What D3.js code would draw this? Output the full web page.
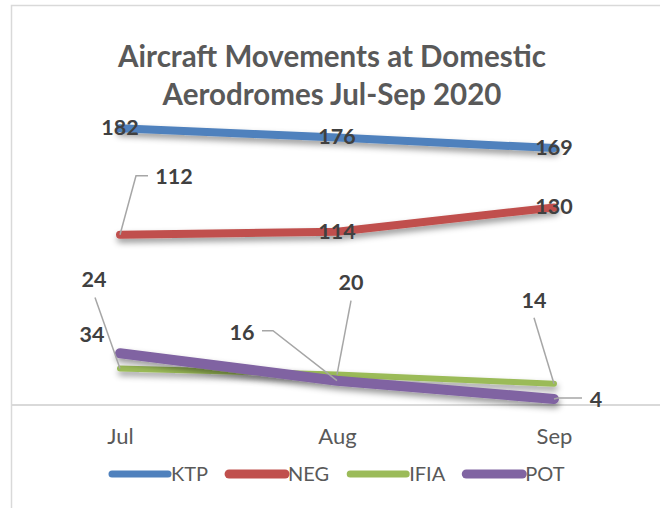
<!DOCTYPE html>
<html>
<head>
<meta charset="utf-8">
<script src="https://cdn.jsdelivr.net/npm/d3@7.9.0/dist/d3.min.js"></script>
<style>
  body { margin: 0; background: #fff; }
  svg { display: block; }
</style>
</head>
<body>
<script>
// chart data
const months = ["Jul", "Aug", "Sep"];
const seriesNames = ["KTP", "NEG", "IFIA", "POT"];
const ktp = [182, 176, 169];
const neg = [112, 114, 130];
const ifia = [24, 20, 14];
const pot = [34, 16, 4];
const titleLines = ["Aircraft Movements at Domestic", "Aerodromes Jul-Sep 2020"];

const W = 660, H = 508;
const font = "Lato, 'Open Sans', sans-serif";

const series = [
  { name: seriesNames[0], values: ktp, color: "#4f81bd", width: 8, legendWidth: 7 },
  { name: seriesNames[1], values: neg, color: "#c0504d", width: 8, legendWidth: 9 },
  { name: seriesNames[2], values: ifia, color: "#9bbb59", width: 6, legendWidth: 7 },
  { name: seriesNames[3], values: pot, color: "#8064a2", width: 10, legendWidth: 9 }
];

// label placement, all offsets relative to the data point
// lx/ly = label centre x / baseline y; leader = bend points going from the point to the label
const labelLayout = {
  KTP: [{ lx: 0, ly: 7 }, { lx: 0, ly: 7 }, { lx: 0, ly: 7 }],
  NEG: [
    { lx: 54, ly: -51, leader: [[16, -59], [28, -59]] },
    { lx: 0, ly: 7 }, { lx: 0, ly: 7 }
  ],
  IFIA: [
    { lx: -26, ly: -82, leader: [[-25, -71]] },
    { lx: 14, ly: -85, leader: [[14, -74]] },
    { lx: -20, ly: -76, leader: [[-20, -66]] }
  ],
  POT: [
    { lx: -28, ly: -11 },
    { lx: -95, ly: -41, leader: [[-64, -50], [-75, -50]] },
    { lx: 42, ly: 8, leader: [[4, -1], [28, -1]] }
  ]
};

const svg = d3.select("body").append("svg")
  .attr("width", W)
  .attr("height", H)
  .style("background", "#fff");

const defs = svg.append("defs");
defs.append("filter")
  .attr("id", "shadow")
  .attr("x", "-10%").attr("y", "-50%")
  .attr("width", "120%").attr("height", "250%")
  .append("feDropShadow")
  .attr("dx", 1).attr("dy", 4)
  .attr("stdDeviation", 3)
  .attr("flood-color", "#000")
  .attr("flood-opacity", 0.4);

// chart border (only top/left visible in the crop)
svg.append("rect")
  .attr("x", 11.5).attr("y", 5.5)
  .attr("width", 800).attr("height", 700)
  .attr("fill", "none")
  .attr("stroke", "#d9d9d9")
  .attr("stroke-width", 1.5);

// title
svg.append("text")
  .attr("x", 332)
  .attr("y", 67)
  .attr("text-anchor", "middle")
  .style("font-family", font)
  .style("font-weight", "bold")
  .style("font-size", "29.5px")
  .style("fill", "#595959")
  .selectAll("tspan")
  .data(titleLines)
  .join("tspan")
  .attr("x", 332)
  .attr("dy", (d, i) => i === 0 ? 0 : 38)
  .text(d => d);

// scales
const x = d3.scalePoint()
  .domain(months)
  .range([120, 554]);

const y = d3.scaleLinear()
  .domain([0, 200])
  .range([405, 101]);

// x axis
const xAxis = svg.append("g")
  .attr("transform", `translate(0,${y(0)})`)
  .call(d3.axisBottom(x).tickSize(0).tickPadding(23));
xAxis.select(".domain").remove();
xAxis.selectAll("text")
  .style("font-family", font)
  .style("font-size", "22px")
  .style("fill", "#595959");

svg.append("line")
  .attr("x1", 12).attr("x2", W)
  .attr("y1", y(0)).attr("y2", y(0))
  .attr("stroke", "#d9d9d9")
  .attr("stroke-width", 2);

// lines
const line = d3.line()
  .x((d, i) => x(months[i]))
  .y(d => y(d));

svg.append("g")
  .selectAll("path")
  .data(series)
  .join("path")
  .attr("d", d => line(d.values))
  .attr("fill", "none")
  .attr("stroke", d => d.color)
  .attr("stroke-width", d => d.width)
  .attr("stroke-linecap", "round")
  .attr("stroke-linejoin", "round")
  .attr("filter", "url(#shadow)");

// data labels
const labelG = svg.append("g");
series.forEach(s => {
  s.values.forEach((v, i) => {
    const px = x(months[i]), py = y(v);
    const lay = labelLayout[s.name][i];
    if (lay.leader) {
      const pts = [[px, py]].concat(lay.leader.map(p => [px + p[0], py + p[1]]));
      labelG.append("path")
        .attr("d", d3.line()(pts))
        .attr("fill", "none")
        .attr("stroke", "#a6a6a6")
        .attr("stroke-width", 1.5);
    }
    labelG.append("text")
      .attr("x", px + lay.lx)
      .attr("y", py + lay.ly)
      .attr("text-anchor", "middle")
      .style("font-family", font)
      .style("font-weight", "bold")
      .style("font-size", "21.5px")
      .style("fill", "#404040")
      .text(v);
  });
});

// legend
const legend = svg.append("g").attr("transform", "translate(112,474)");
let lx = 0;
series.forEach(s => {
  const g = legend.append("g").attr("transform", `translate(${lx},0)`);
  g.append("line")
    .attr("x1", 0).attr("x2", 56)
    .attr("y1", 0).attr("y2", 0)
    .attr("stroke", s.color)
    .attr("stroke-width", s.legendWidth)
    .attr("stroke-linecap", "round");
  const t = g.append("text")
    .attr("x", 59)
    .attr("y", 7)
    .style("font-family", font)
    .style("font-size", "20px")
    .style("fill", "#595959")
    .text(s.name);
  lx += 59 + t.node().getComputedTextLength() + 21;
});
</script>
</body>
</html>
